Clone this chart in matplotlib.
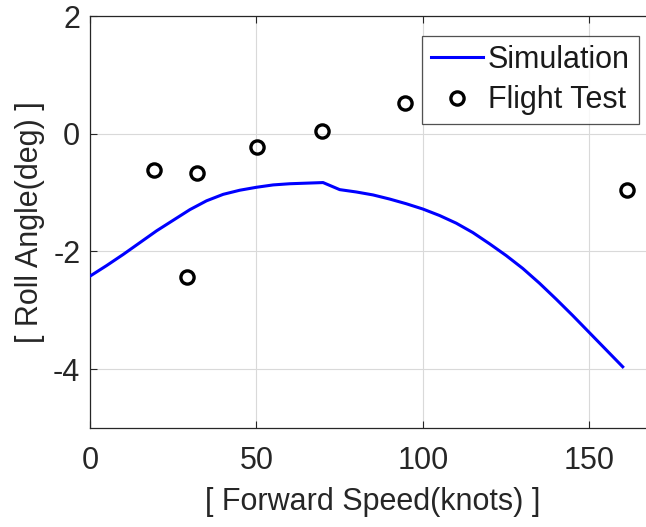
import matplotlib
matplotlib.use("Agg")

import numpy as np
import matplotlib.pyplot as plt

# ============================================================
# DATA
# ============================================================
sim_speed = [0, 5, 10, 15, 20, 25, 30, 35, 40, 45, 50, 55, 60, 65, 70, 75, 80,
             85, 90, 95, 100, 105, 110, 115, 120, 125, 130, 135, 140, 145, 150, 155, 160]
sim_roll = [-2.42, -2.24, -2.05, -1.85, -1.65, -1.47, -1.29, -1.14, -1.03, -0.96,
            -0.91, -0.87, -0.85, -0.84, -0.83, -0.95, -0.99, -1.04, -1.11, -1.19,
            -1.28, -1.39, -1.52, -1.68, -1.87, -2.07, -2.29, -2.54, -2.81, -3.09,
            -3.38, -3.67, -3.96]

test_speed = [19.2, 29.0, 32.2, 50.2, 69.7, 94.7, 161.2]
test_roll = [-0.61, -2.44, -0.67, -0.23, 0.05, 0.53, -0.96]

x_ticks = [0, 50, 100, 150]
y_ticks = [-4, -2, 0, 2]

# ============================================================
# STYLE
# ============================================================
plt.rcParams["font.family"] = ["Liberation Sans", "DejaVu Sans"]
plt.rcParams["axes.unicode_minus"] = False
text_color = (0.15, 0.15, 0.15)
fs = 22

fig = plt.figure(figsize=(6.46, 5.27), dpi=100)
# axes runs slightly past the right edge of the picture (cropped, as in the reference)
ax = fig.add_axes([90 / 646, 99 / 527, 566 / 646, 412 / 527])

ax.plot(sim_speed, sim_roll, color=(0, 0, 1), lw=2.2, label="Simulation", zorder=3)
ax.plot(test_speed, test_roll, ls="none", marker="o", ms=9.5, mew=2.4,
        mfc="none", mec="black", label="Flight Test", zorder=4)

ax.set_xlim(0, 170)
ax.set_ylim(-5, 2)
ax.set_xticks(x_ticks)
ax.set_yticks(y_ticks)
ax.grid(True, color=(0.85, 0.85, 0.85), lw=0.8)
ax.set_axisbelow(True)

ax.tick_params(direction="in", top=True, right=True, length=5, width=0.8,
               colors=text_color, labelsize=fs)
ax.tick_params(axis="x", pad=13)
ax.tick_params(axis="y", pad=7)
for s in ax.spines.values():
    s.set_color(text_color)
    s.set_linewidth(0.9)

ax.set_xlabel("[ Forward Speed(knots) ]", fontsize=fs, color=text_color, labelpad=8)
ax.set_ylabel("[ Roll Angle(deg) ]", fontsize=fs, color=text_color, labelpad=6)

leg = ax.legend(loc="upper right", bbox_to_anchor=(549 / 566, 1 - 20 / 412),
                fontsize=fs, frameon=True, fancybox=False, handlelength=1.7,
                handletextpad=0.15, borderpad=0.3, labelspacing=0.33, borderaxespad=0)
leg.get_frame().set_edgecolor(text_color)
leg.get_frame().set_linewidth(0.9)
for t in leg.get_texts():
    t.set_color((0.1, 0.1, 0.1))

fig.savefig("out.png", dpi=100)
